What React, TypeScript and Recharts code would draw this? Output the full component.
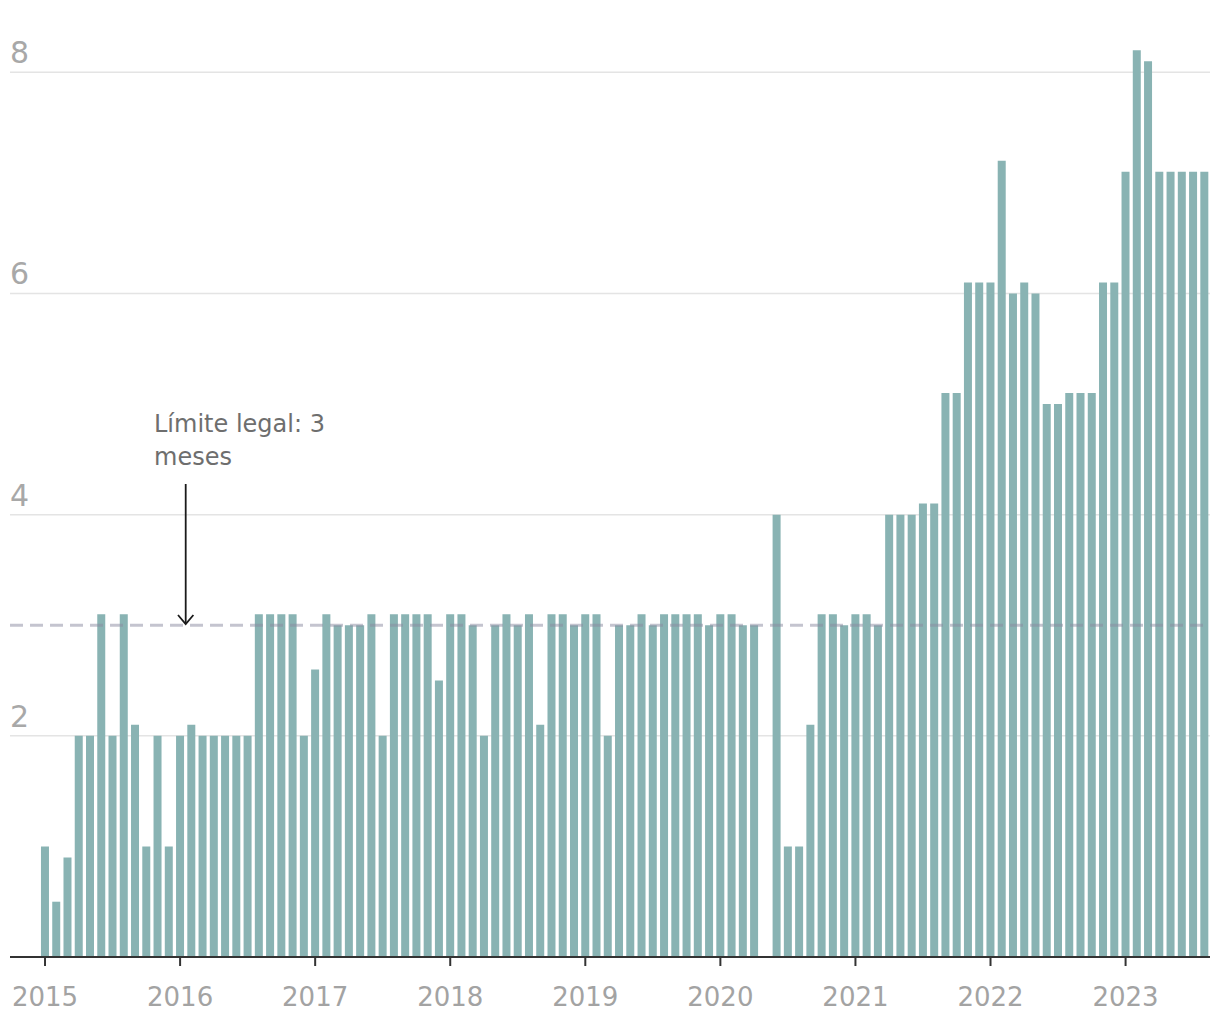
import { BarChart, Bar, XAxis, YAxis, CartesianGrid, ReferenceLine } from 'recharts';

// Months of waiting per month, Jan 2015 – Aug 2023 (null = no data)
const years = ['2015', '2016', '2017', '2018', '2019', '2020', '2021', '2022', '2023'];
const months = ['01', '02', '03', '04', '05', '06', '07', '08', '09', '10', '11', '12'];

const v2015 = [1.0, 0.5, 0.9, 2.0, 2.0, 3.1, 2.0, 3.1, 2.1, 1.0, 2.0, 1.0];
const v2016 = [2.0, 2.1, 2.0, 2.0, 2.0, 2.0, 2.0, 3.1, 3.1, 3.1, 3.1, 2.0];
const v2017 = [2.6, 3.1, 3.0, 3.0, 3.0, 3.1, 2.0, 3.1, 3.1, 3.1, 3.1, 2.5];
const v2018 = [3.1, 3.1, 3.0, 2.0, 3.0, 3.1, 3.0, 3.1, 2.1, 3.1, 3.1, 3.0];
const v2019 = [3.1, 3.1, 2.0, 3.0, 3.0, 3.1, 3.0, 3.1, 3.1, 3.1, 3.1, 3.0];
const v2020 = [3.1, 3.1, 3.0, 3.0, null, 4.0, 1.0, 1.0, 2.1, 3.1, 3.1, 3.0];
const v2021 = [3.1, 3.1, 3.0, 4.0, 4.0, 4.0, 4.1, 4.1, 5.1, 5.1, 6.1, 6.1];
const v2022 = [6.1, 7.2, 6.0, 6.1, 6.0, 5.0, 5.0, 5.1, 5.1, 5.1, 6.1, 6.1];
const v2023 = [7.1, 8.2, 8.1, 7.1, 7.1, 7.1, 7.1, 7.1];

const yearValues = [v2015, v2016, v2017, v2018, v2019, v2020, v2021, v2022, v2023];
const yTicks = [2, 4, 6, 8];
const legalLimit = 3;

const data = yearValues.flatMap((vals, yi) =>
  vals.map((v, mi) => ({ month: `${years[yi]}-${months[mi]}`, value: v }))
);
const yearTicks = years.map((y) => `${y}-01`);

const FONT = '"DejaVu Sans", sans-serif';

const renderYTick = (props: any) => {
  const { y, payload } = props;
  return (
    <text x={2} y={y - 9} fill="#a8a8a8" fontSize={30} fontFamily={FONT} textAnchor="start">
      {payload.value}
    </text>
  );
};

export default function App() {
  return (
    <div style={{ position: 'relative', width: 1204, height: 1004 }}>
      <BarChart
        width={1204}
        height={1004}
        data={data}
        margin={{ top: 9, right: 2, bottom: 5, left: 0 }}
        barCategoryGap="14%"
      >
        <CartesianGrid
          vertical={false}
          horizontalValues={yTicks}
          stroke="#e4e4e4"
          strokeWidth={1.5}
        />
        <YAxis
          width={2}
          domain={[0, 8.5]}
          ticks={yTicks}
          interval={0}
          axisLine={false}
          tickLine={false}
          tick={renderYTick}
        />
        <XAxis
          dataKey="month"
          height={50}
          padding={{ left: 29.4, right: 0 }}
          ticks={yearTicks}
          interval={0}
          tickFormatter={(v: string) => v.slice(0, 4)}
          axisLine={{ stroke: '#333', strokeWidth: 2 }}
          tickLine={{ stroke: '#333', strokeWidth: 2 }}
          tickSize={9}
          tickMargin={22}
          tick={{ fill: '#a3a3a3', fontSize: 26, fontFamily: FONT }}
        />
        <Bar dataKey="value" fill="#89b3b3" isAnimationActive={false} />
        <ReferenceLine
          y={legalLimit}
          stroke="#8a8aa0"
          strokeOpacity={0.5}
          strokeWidth={3}
          strokeDasharray="13 7"
        />
      </BarChart>
      <svg
        width={1204}
        height={1004}
        style={{ position: 'absolute', left: 0, top: 0, pointerEvents: 'none' }}
      >
        <text x={146} y={424} fill="#6e6e6e" fontSize={24} fontFamily={FONT}>
          Límite legal: 3
        </text>
        <text x={146} y={457} fill="#6e6e6e" fontSize={24} fontFamily={FONT}>
          meses
        </text>
        <line x1={177.7} y1={476} x2={177.7} y2={616} stroke="#1a1a1a" strokeWidth={1.8} />
        <polyline
          points="170,607 177.7,616 185.4,607"
          fill="none"
          stroke="#1a1a1a"
          strokeWidth={1.8}
        />
      </svg>
    </div>
  );
}
